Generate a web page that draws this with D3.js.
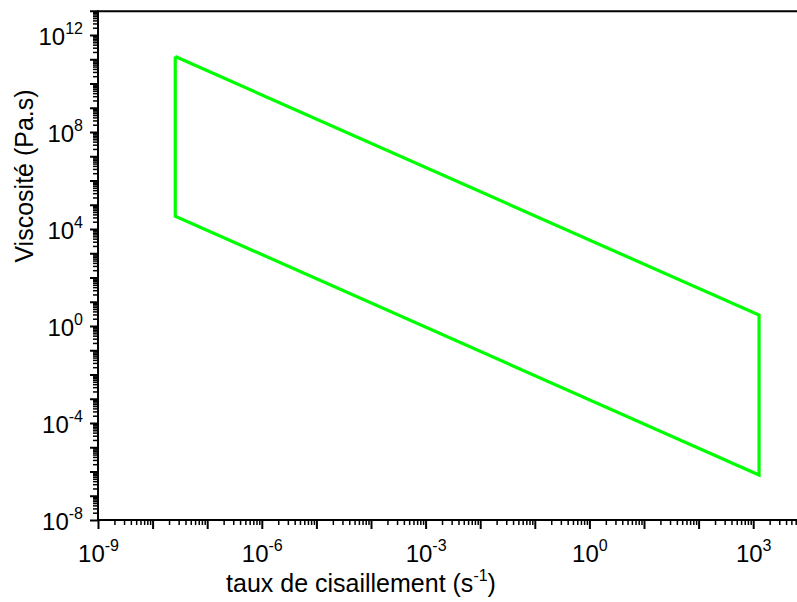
<!DOCTYPE html>
<html>
<head>
<meta charset="utf-8">
<script src="https://cdn.jsdelivr.net/npm/d3@7/dist/d3.min.js"></script>
<style>
  html, body { margin: 0; padding: 0; background: #fff; }
  svg { display: block; }
  text { font-family: "Liberation Sans", Arial, sans-serif; fill: #000; }
</style>
</head>
<body>
<svg id="chart" width="797" height="602"></svg>
<script>
// ---- data ----
const shearRate = [2.6e-8, 2.6e-8, 1280, 1280, 2.6e-8];       // s^-1
const viscosity = [1.3e11, 3.4e4, 7.2e-7, 2.8, 1.3e11];        // Pa.s
const xLabelExponents = [-9, -6, -3, 0, 3];
const yLabelExponents = [-8, -4, 0, 4, 8, 12];
const xDomain = [1e-9, 1e4];
const yDomain = [1e-8, 1e13];
const xTitle = "taux de cisaillement (s";
const xTitleSup = "-1";
const yTitle = "Viscosité (Pa.s)";

// ---- layout ----
const svg = d3.select("#chart");
const mLeft = 98, mBottom = 520, mTop = 10.75, mRight = 807.8;

const x = d3.scaleLog().domain(xDomain).range([mLeft, mRight]);
const y = d3.scaleLog().domain(yDomain).range([mBottom, mTop]);

function decades(dom) {
  const a = Math.round(Math.log10(dom[0])), b = Math.round(Math.log10(dom[1]));
  return d3.range(a, b + 1).map(e => Math.pow(10, e));
}
function minors(dom) {
  const out = [];
  decades(dom).forEach(d => { for (let k = 2; k <= 9; k++) { const v = d * k; if (v <= dom[1]) out.push(v); } });
  return out;
}
const near = (v, e) => Math.abs(Math.log10(v) - e) < 1e-6;

// top frame line
svg.append("line").attr("x1", mLeft).attr("x2", mRight).attr("y1", mTop + 0.5).attr("y2", mTop + 0.5)
  .attr("stroke", "#000").attr("stroke-width", 2);

// X axis
const gx = svg.append("g").attr("transform", `translate(0,${mBottom})`);
gx.call(d3.axisBottom(x).tickValues(minors(xDomain)).tickSize(5).tickFormat(""))
  .call(g => g.selectAll(".tick line").attr("stroke-width", 1.5));
gx.select(".domain").remove();
const gxM = svg.append("g").attr("transform", `translate(0,${mBottom})`);
gxM.call(d3.axisBottom(x).tickValues(decades(xDomain)).tickSize(9).tickFormat(""))
  .call(g => g.selectAll(".tick line").attr("stroke-width", 2));
gxM.select(".domain").remove();
gxM.selectAll(".tick").filter(d => xLabelExponents.some(e => near(d, e)))
  .append("text")
  .attr("text-anchor", "middle").attr("y", 42).style("font-size", "24px")
  .each(function(d) {
    const t = d3.select(this);
    t.append("tspan").text("10");
    t.append("tspan").attr("dy", -11).style("font-size", "16px").text(Math.round(Math.log10(d)));
  });
svg.append("line").attr("x1", mLeft - 1).attr("x2", mRight).attr("y1", mBottom).attr("y2", mBottom)
  .attr("stroke", "#000").attr("stroke-width", 2);

// Y axis
const gy = svg.append("g").attr("transform", `translate(${mLeft},0)`);
gy.call(d3.axisLeft(y).tickValues(minors(yDomain)).tickSize(5).tickFormat(""))
  .call(g => g.selectAll(".tick line").attr("stroke-width", 1.5));
gy.select(".domain").remove();
const gyM = svg.append("g").attr("transform", `translate(${mLeft},0)`);
gyM.call(d3.axisLeft(y).tickValues(decades(yDomain)).tickSize(8).tickFormat(""))
  .call(g => g.selectAll(".tick line").attr("stroke-width", 2));
gyM.select(".domain").remove();
gyM.selectAll(".tick").filter(d => yLabelExponents.some(e => near(d, e)))
  .append("text")
  .attr("text-anchor", "end").attr("x", -15).attr("y", 9).style("font-size", "24px")
  .each(function(d) {
    const t = d3.select(this);
    t.append("tspan").text("10");
    t.append("tspan").attr("dy", -11).style("font-size", "16px").text(Math.round(Math.log10(d)));
  });
svg.append("line").attr("x1", mLeft).attr("x2", mLeft).attr("y1", mTop - 0.5).attr("y2", mBottom + 1)
  .attr("stroke", "#000").attr("stroke-width", 2);

// data polygon
const line = d3.line().x(d => x(d[0])).y(d => y(d[1]));
svg.append("path")
  .datum(shearRate.map((s, i) => [s, viscosity[i]]))
  .attr("d", line)
  .attr("fill", "none").attr("stroke", "#00ff00").attr("stroke-width", 3.2)
  .attr("stroke-linejoin", "miter");

// titles
const xt = svg.append("text").attr("x", 361).attr("y", 592).attr("text-anchor", "middle").style("font-size", "25px");
xt.append("tspan").text(xTitle);
xt.append("tspan").attr("dy", -11).style("font-size", "16px").text(xTitleSup);
xt.append("tspan").attr("dy", 11).text(")");

svg.append("text")
  .attr("transform", "translate(33,176) rotate(-90)")
  .attr("text-anchor", "middle").style("font-size", "25px")
  .text(yTitle);
</script>
</body>
</html>
